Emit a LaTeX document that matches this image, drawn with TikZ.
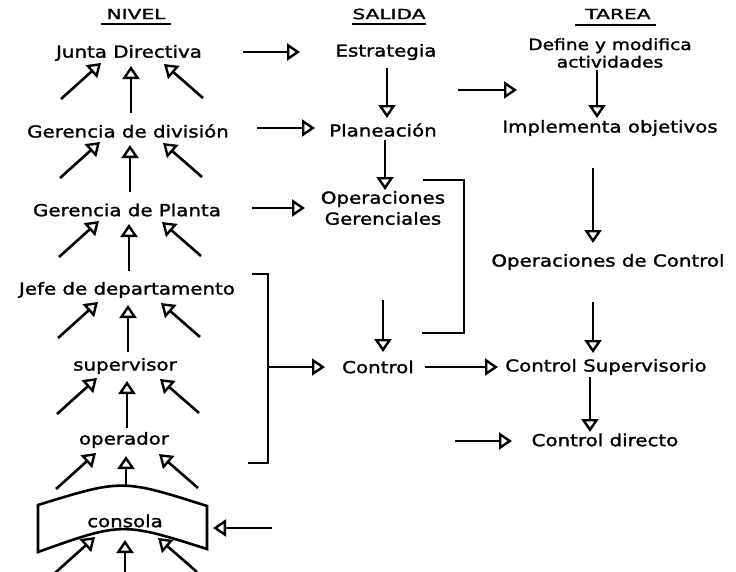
\documentclass[tikz,border=0pt]{standalone}
\usepackage{fontspec}
\setmainfont{DejaVu Sans}[FakeStretch=1.2,FakeBold=1.6]
\usetikzlibrary{arrows.meta,calc}
\tikzset{
  lbl/.style={font=\fontsize{16.5}{21}\selectfont, inner sep=1pt, align=center},
  small/.style={font=\fontsize{15.5}{17.5}\selectfont, inner sep=1pt, align=center},
  head/.style={font=\fontsize{14}{16}\selectfont, inner sep=1pt},
  arr/.style={line width=2.6pt, -{Triangle[open, length=13pt, width=17pt, line width=2.4pt]}},
  ln/.style={line width=2.6pt},
}
\newcommand{\levelarrows}[3]{%
  \draw[arr] (#1-70,#2+36) -- (#1-30,#2);
  \draw[arr] (#1,#2+#3) -- (#1,#2+3);
  \draw[arr] (#1+72,#2+35) -- (#1+33,#2+1);
}
\newcommand{\wide}[1]{\scalebox{1.2}[1]{#1}}
\begin{document}
\begin{tikzpicture}[x=1pt,y=-1pt]
\useasboundingbox (0,0) rectangle (736,571);
% headings
\node[head] (nivel) at (136,14) {\wide{NIVEL}};
\node[head] (salida) at (389,14) {\wide{SALIDA}};
\node[head] (tarea) at (618,14) {\wide{TAREA}};
\draw[line width=1.8pt] (101,24) -- (171,24);
\draw[line width=1.8pt] (352,24) -- (426,24);
\draw[line width=1.8pt] (575,25) -- (656,25);
% level column
\node[lbl] (jd) at (129,53) {Junta Directiva};
\node[lbl] (gd) at (128,131) {Gerencia de división};
\node[lbl] (gp) at (127,210) {Gerencia de Planta};
\node[lbl] (jdep) at (127,290) {Jefe de departamento};
\node[lbl] (sup) at (125,366) {supervisor};
\node[lbl] (op) at (124,440) {operador};
\node[lbl] (cons) at (125,521) {consola};
\levelarrows{131}{63}{50}
\levelarrows{130}{142}{50}
\levelarrows{129}{221}{50}
\levelarrows{128}{302}{50}
\levelarrows{127}{378}{50}
\levelarrows{126}{453}{33}
\levelarrows{125}{537}{36}
% consola shape
\draw[ln] (38,505) .. controls (122,479) .. (207,506) -- (207,549)
  .. controls (122,522) .. (38,552) -- cycle;
\draw[arr] (272,528) -- (213,528);
% salida column
\node[lbl] (est) at (386,52) {Estrategia};
\node[lbl] (plan) at (383,130) {Planeación};
\node[lbl] (opg) at (383,208) {Operaciones\\Gerenciales};
\node[lbl] (ctl) at (378,367) {Control};
\draw[arr] (243,52) -- (300,52);
\draw[arr] (387,68) -- (387,118);
\draw[arr] (257,128) -- (315,128);
\draw[arr] (385,140) -- (385,190);
\draw[arr] (252,208) -- (305,208);
\draw[arr] (383,300) -- (383,352);
\draw[ln] (423,180) -- (464,180) -- (464,333) -- (422,333);
\draw[ln] (252,274) -- (268,274) -- (268,463) -- (248,463);
\draw[arr] (268,367) -- (325,367);
\draw[arr] (425,367) -- (498,367);
% tarea column
\node[small] (def) at (610,53) {Define y modifica\\actividades};
\node[lbl] (impl) at (610,128) {Implementa objetivos};
\node[lbl] (opc) at (608,262) {Operaciones de Control};
\node[lbl] (cs) at (606,367) {Control Supervisorio};
\node[lbl] (cd) at (605,440) {Control directo};
\draw[arr] (458,90) -- (517,90);
\draw[arr] (597,70) -- (597,118);
\draw[arr] (593,168) -- (593,243);
\draw[arr] (593,302) -- (593,353);
\draw[arr] (590,377) -- (590,432);
\draw[arr] (455,441) -- (512,441);
\end{tikzpicture}
\end{document}
